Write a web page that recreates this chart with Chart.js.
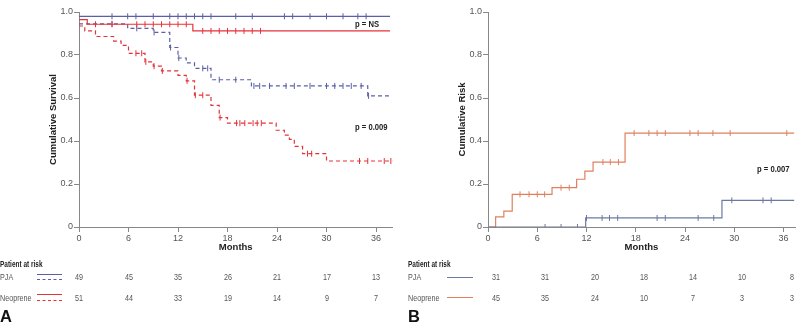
<!DOCTYPE html>
<html>
<head>
<meta charset="utf-8">
<script src="https://cdn.jsdelivr.net/npm/chart.js@4.4.0/dist/chart.umd.min.js"></script>
<style>
  body { margin: 0; width: 800px; height: 324px; position: relative; background: #fff; overflow: hidden;
         font-family: "Liberation Sans", Arial, sans-serif; }
  .wrap { position: absolute; top: 0; width: 400px; height: 260px; }
  .txt { position: absolute; white-space: nowrap; font-size: 9px; color: #555; line-height: 12px;
         transform: scaleX(0.8); transform-origin: 0 50%; }
  .bold { font-weight: bold; color: #222; transform: scaleX(0.85); }
  .head { font-weight: bold; color: #222; transform: scaleX(0.72); }
  .num { transform: translateX(-50%) scaleX(0.8); transform-origin: 50% 50%; }
  .leg { position: absolute; height: 0; }
  .panel { position: absolute; font-size: 16.5px; font-weight: bold; color: #111; line-height: 16px; }
</style>
</head>
<body>
<div class="wrap" style="left:0"><canvas id="chartA" width="400" height="260"></canvas></div>
<div class="wrap" style="left:400px"><canvas id="chartB" width="400" height="260"></canvas></div>
<div id="extra"></div>
<script>
// months on the x axis
const monthTicks = [0, 6, 12, 18, 24, 30, 36];

// Panel A - survival, step times (months) and survival after each step
const pjaSolidT = [0, 37.7];
const pjaSolidS = [0.98, 0.98];
const pjaSolidCens = [4, 5.9, 6.9, 9, 11, 12, 13, 14, 15, 16, 19, 21, 24.9, 25.9, 28, 30, 32, 33.8, 34.8];

const neoSolidT = [0, 1, 13.8, 37.7];
const neoSolidS = [0.965, 0.943, 0.912, 0.912];
const neoSolidCens = [2, 4, 7, 8, 9, 10, 11, 12, 13, 15, 16, 17, 18, 19, 20, 21, 22];

const pjaDashT = [0, 5.9, 9, 11, 12, 13, 14, 16, 20.9, 35, 37.8];
const pjaDashS = [0.945, 0.924, 0.905, 0.835, 0.786, 0.763, 0.738, 0.685, 0.656, 0.61, 0.61];
const pjaDashCens = [4, 7, 9.1, 11.1, 12.1, 15, 15.6, 17, 19, 21.2, 21.9, 23.1, 25.1, 26.1, 28, 30, 31, 32, 33, 34.2, 35.1];

const neoDashT = [0, 0.7, 2, 4.2, 5.1, 6, 8, 9, 10, 12, 13, 14, 16, 17, 18, 23.9, 24.9, 25.5, 26.1, 27.1, 30, 38];
const neoDashS = [0.935, 0.912, 0.886, 0.865, 0.845, 0.808, 0.768, 0.748, 0.726, 0.705, 0.68, 0.613, 0.566, 0.509, 0.483, 0.45, 0.427, 0.408, 0.375, 0.341, 0.307, 0.307];
const neoDashCens = [6.9, 7.6, 8.1, 9.1, 10.1, 13.1, 14.1, 15, 17.1, 19.1, 19.5, 20.1, 21.1, 21.6, 22.1, 27.7, 28.2, 34, 35, 37, 37.8];

// Panel B - cumulative risk
const riskPjaT = [0, 11.9, 28.5, 37.3];
const riskPjaR = [0, 0.042, 0.124, 0.124];
const riskPjaCens = [6.95, 8.9, 10.9, 12, 13.9, 14.8, 15.8, 20.6, 21.6, 25.6, 27.5, 29.7, 33.5, 34.5];

const riskNeoT = [0, 0.93, 1.93, 2.95, 7.8, 10.8, 11.8, 12.8, 16.7, 37.3];
const riskNeoR = [0, 0.047, 0.074, 0.152, 0.183, 0.222, 0.26, 0.302, 0.437, 0.437];
const riskNeoCens = [3.9, 5, 6, 6.9, 8.9, 9.9, 14, 14.9, 15.9, 17.8, 19.6, 20.6, 21.6, 24.6, 25.6, 27.4, 29.5, 36.4];

// patients at risk
const atRiskA_pja = [49, 45, 35, 26, 21, 17, 13];
const atRiskA_neo = [51, 44, 33, 19, 14, 9, 7];
const atRiskB_pja = [31, 31, 20, 18, 14, 10, 8];
const atRiskB_neo = [45, 35, 24, 10, 7, 3, 3];

const blueA = '#5a5fa6', redA = '#e5333a';
const blueB = '#6c7aa2', orangeB = '#df805e';

Chart.defaults.font.family = '"Liberation Sans", Arial, sans-serif';
Chart.defaults.font.size = 9;
Chart.defaults.color = '#555';

function stepAt(times, vals, t) {
    let v = vals[0];
    for (let i = 0; i < times.length; i++) if (times[i] <= t) v = vals[i];
    return v;
}

function curve(times, vals, color, dash) {
    return {
        data: times.map((t, i) => ({ x: t, y: vals[i] })),
        borderColor: color, borderWidth: 1.2, borderDash: dash ? [4, 3] : [],
        stepped: true, pointRadius: 0, fill: false
    };
}

function censors(times, vals, cens, color) {
    return {
        data: cens.map(t => ({ x: t, y: stepAt(times, vals, t) })),
        showLine: false, pointStyle: 'line', rotation: 90, pointRadius: 3,
        borderColor: color, pointBorderWidth: 1, borderWidth: 1
    };
}

function makeChart(id, datasets, yTitle, yWidth, titlePad, xMax, padRight) {
    return new Chart(document.getElementById(id).getContext('2d'), {
        type: 'line',
        data: { datasets: datasets },
        options: {
            responsive: false,
            animation: false,
            layout: { padding: { top: 12, right: padRight, bottom: 0, left: 0 } },
            plugins: { legend: { display: false }, tooltip: { enabled: false } },
            scales: {
                x: {
                    type: 'linear', min: 0, max: xMax,
                    afterBuildTicks: s => { s.ticks = monthTicks.map(v => ({ value: v })); },
                    afterFit: s => { s.height = 33; },
                    grid: { drawOnChartArea: false, drawTicks: true, tickLength: 5, color: '#888' },
                    border: { display: true, color: '#888', width: 1 },
                    ticks: { padding: 1, maxRotation: 0 },
                    title: { display: true, text: 'Months', color: '#222', font: { size: 9.5, weight: 'bold' }, padding: { top: 0, bottom: 6.5 } }
                },
                y: {
                    min: 0, max: 1,
                    ticks: { stepSize: 0.2, padding: 1, callback: v => v === 0 ? '0' : v.toFixed(1) },
                    afterFit: s => { s.width = yWidth; },
                    grid: { drawOnChartArea: false, drawTicks: true, tickLength: 5, color: '#888' },
                    border: { display: true, color: '#888', width: 1 },
                    title: { display: true, text: yTitle, color: '#222', font: { size: 9.5, weight: 'bold' }, padding: { top: titlePad, bottom: 0 } }
                }
            }
        }
    });
}

const chartA = makeChart('chartA', [
    curve(pjaSolidT, pjaSolidS, blueA, false),
    curve(neoSolidT, neoSolidS, redA, false),
    curve(pjaDashT, pjaDashS, blueA, true),
    curve(neoDashT, neoDashS, redA, true),
    censors(pjaSolidT, pjaSolidS, pjaSolidCens, blueA),
    censors(neoSolidT, neoSolidS, neoSolidCens, redA),
    censors(pjaDashT, pjaDashS, pjaDashCens, blueA),
    censors(neoDashT, neoDashS, neoDashCens, redA)
], 'Cumulative Survival', 79, 48, 38, 7.5);

const chartB = makeChart('chartB', [
    curve(riskPjaT, riskPjaR, blueB, false),
    curve(riskNeoT, riskNeoR, orangeB, false),
    censors(riskPjaT, riskPjaR, riskPjaCens, blueB),
    censors(riskNeoT, riskNeoR, riskNeoCens, orangeB)
], 'Cumulative Risk', 88, 57, 37.4, 4.5);

// text, legend keys and risk table
const extra = document.getElementById('extra');
function addText(html, x, y, cls) {
    const d = document.createElement('div');
    d.className = 'txt ' + (cls || '');
    d.style.left = x + 'px';
    d.style.top = (y - 6) + 'px';
    d.innerHTML = html;
    extra.appendChild(d);
}
function addKey(x1, x2, y, color, dashed) {
    const d = document.createElement('div');
    d.className = 'leg';
    d.style.left = x1 + 'px';
    d.style.width = (x2 - x1) + 'px';
    d.style.top = y + 'px';
    d.style.borderTop = '1.2px ' + (dashed ? 'dashed ' : 'solid ') + color;
    extra.appendChild(d);
}
function riskTable(chart, offsetX, pjaVals, neoVals, keyX1, keyX2, blue, red, twoKeys, letter) {
    addText('Patient at risk', offsetX, 264, 'head');
    addText('PJA', offsetX, 277);
    addText('Neoprene', offsetX, 298);
    if (twoKeys) {
        addKey(keyX1, keyX2, 274, blue, false);
        addKey(keyX1, keyX2, 278.5, blue, true);
        addKey(keyX1, keyX2, 294, red, false);
        addKey(keyX1, keyX2, 299.5, red, true);
    } else {
        addKey(keyX1, keyX2, 277, blue, false);
        addKey(keyX1, keyX2, 297, red, false);
    }
    monthTicks.forEach((t, i) => {
        const px = offsetX + chart.scales.x.getPixelForValue(t);
        addText(String(pjaVals[i]), px, 277, 'num');
        addText(String(neoVals[i]), px, 298, 'num');
    });
    const p = document.createElement('div');
    p.className = 'panel';
    p.style.left = offsetX + 'px';
    p.style.top = '308px';
    p.textContent = letter;
    extra.appendChild(p);
}

riskTable(chartA, 0, atRiskA_pja, atRiskA_neo, 37, 62, blueA, redA, true, 'A');
riskTable(chartB, 408, atRiskB_pja, atRiskB_neo, 447, 473, blueB, orangeB, false, 'B');

addText('p = NS', 355, 24, 'bold');
addText('p = 0.009', 355, 127, 'bold');
addText('p = 0.007', 757, 169, 'bold');
</script>
</body>
</html>
